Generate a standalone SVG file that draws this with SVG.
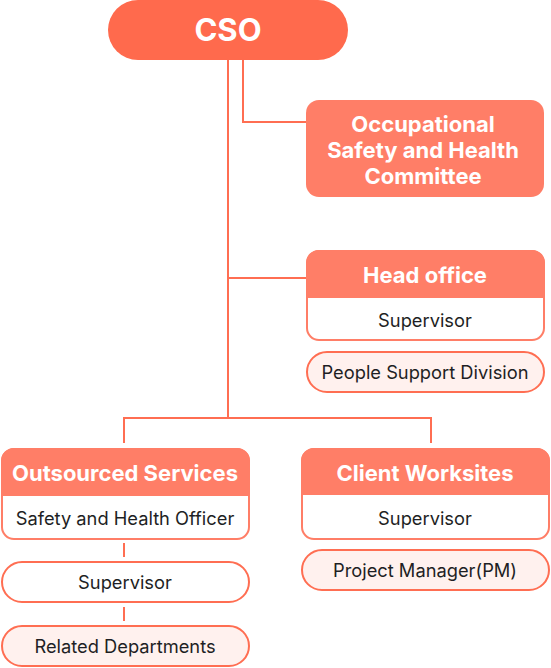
<svg xmlns="http://www.w3.org/2000/svg" width="551" height="668" viewBox="0 0 551 668">
<style>
.ln{fill:none;stroke:#FF6E52;stroke-width:2}
.hd{fill:#FF7E67}
.box{fill:#fff;stroke:#FF7E67;stroke-width:2}
.pill{fill:#FFF1EE;stroke:#FF6E52;stroke-width:2}
.wpill{fill:#fff;stroke:#FF6E52;stroke-width:2}
.tw{font-family:Inter,"Liberation Sans",sans-serif;font-weight:700;fill:#fff;text-anchor:middle}
.td{font-family:Inter,"Liberation Sans",sans-serif;font-weight:400;fill:#1E1F24;text-anchor:middle;font-size:18.3px}
</style>
<g id="connectors">
<path class="ln" d="M228 60V418"/>
<path class="ln" d="M243 60V122H306"/>
<path class="ln" d="M228 278H306"/>
<path class="ln" d="M124 443V418H431V443"/>
<path class="ln" d="M124 543V557"/>
<path class="ln" d="M124 607V621"/>
</g>
<g id="cso">
<rect x="108" y="0" width="240" height="60" rx="30" fill="#FF6A4D"/>
<text class="tw" x="228" y="41" font-size="31">CSO</text>
</g>
<g id="committee">
<rect x="306" y="100" width="238" height="97" rx="13" class="hd"/>
<text class="tw" font-size="22"><tspan x="423" y="132">Occupational</tspan><tspan x="423" y="158">Safety and Health</tspan><tspan x="423" y="184">Committee</tspan></text>
</g>
<g id="head-office">
<rect x="307" y="251" width="237" height="89" rx="12" class="box"/>
<path d="M306 298V263a13 13 0 0 1 13-13H532a13 13 0 0 1 13 13V298Z" class="hd"/>
<text class="tw" x="425" y="283" font-size="22">Head office</text>
<text class="td" x="425" y="327">Supervisor</text>
</g>
<g id="people-support">
<rect x="307" y="352" width="237" height="40" rx="20" class="pill"/>
<text class="td" x="425" y="378.5">People Support Division</text>
</g>
<g id="outsourced">
<rect x="2" y="449" width="247" height="90" rx="12" class="box"/>
<path d="M1 496V461a13 13 0 0 1 13-13H237a13 13 0 0 1 13 13V496Z" class="hd"/>
<text class="tw" x="125" y="481" font-size="22">Outsourced Services</text>
<text class="td" x="125" y="525">Safety and Health Officer</text>
</g>
<g id="out-supervisor">
<rect x="2" y="562" width="247" height="40" rx="20" class="wpill"/>
<text class="td" x="125" y="588.5">Supervisor</text>
</g>
<g id="related">
<rect x="2" y="626" width="247" height="40" rx="20" class="pill"/>
<text class="td" x="125" y="652.5">Related Departments</text>
</g>
<g id="client">
<rect x="302" y="449" width="247" height="90" rx="12" class="box"/>
<path d="M301 495V461a13 13 0 0 1 13-13H537a13 13 0 0 1 13 13V495Z" class="hd"/>
<text class="tw" x="425" y="481" font-size="22">Client Worksites</text>
<text class="td" x="425" y="525">Supervisor</text>
</g>
<g id="pm">
<rect x="302" y="550" width="247" height="40" rx="20" class="pill"/>
<text class="td" x="425" y="576.5">Project Manager(PM)</text>
</g>
</svg>
